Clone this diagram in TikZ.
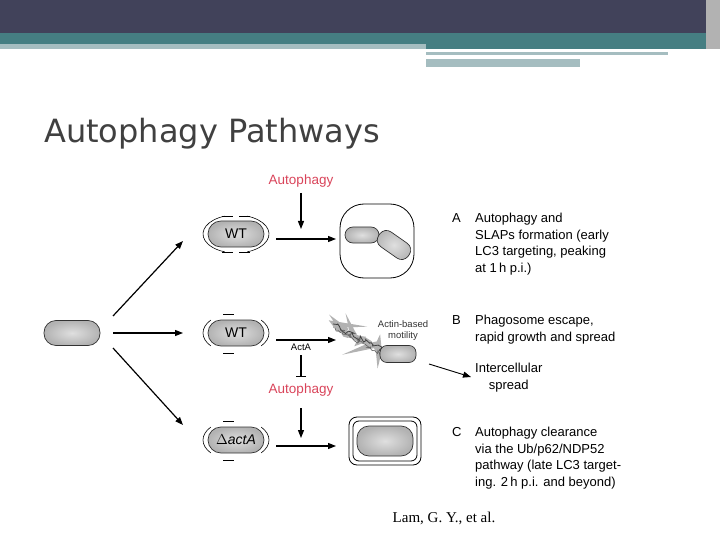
\documentclass[tikz,border=0pt]{standalone}
\usepackage{fontspec}
\setmainfont{Liberation Sans}
\newfontfamily\titlefont{DejaVu Sans}
\newfontfamily\serifx{Liberation Serif}
\usetikzlibrary{arrows.meta,decorations.pathmorphing}
\definecolor{dark}{HTML}{41425A}
\definecolor{teal1}{HTML}{457E82}
\definecolor{lteal}{HTML}{A5BDC0}
\definecolor{red1}{HTML}{D9445A}
\tikzset{
 bact/.style={draw=black!80,line width=0.7pt,rounded corners=#1,inner color=gray!25,outer color=gray!60},
 arr/.style={-{Triangle[length=8pt,width=6pt]},line width=1.2pt},
 lbl/.style={font=\fontsize{13}{16.5}\selectfont,align=left,anchor=north west,inner sep=0},
 red/.style={text=red1,font=\fontsize{13.5}{16}\selectfont},
 mem/.style={line width=0.6pt},
}
\begin{document}
\begin{tikzpicture}[x=1pt,y=-1pt]
\useasboundingbox (0,0) rectangle (720,540);
\fill[dark] (0,0) rectangle (720,33);
\fill[teal1] (0,33) rectangle (720,49);
\fill[lteal] (0,44) rectangle (426,49);
\fill[lteal] (426,52) rectangle (668,55);
\fill[lteal] (426,59) rectangle (580,67);
\fill[gray!60] (706,0) rectangle (720,49);
\node[anchor=west,inner sep=0,text=black!75,font=\titlefont\fontsize{32}{34}\selectfont] (title) at (44,134) {Autophagy Pathways};
% left bacterium
\node[bact=12pt,minimum width=56pt,minimum height=25pt] (b0) at (72,333) {};
% WT top
\node[bact=13pt,minimum width=56pt,minimum height=26pt,font=\fontsize{14}{16}\selectfont] (wt1) at (236,234) {WT};
\draw[mem] (wt1.center) ++(110:33pt and 19pt) arc (110:250:33pt and 19pt);
\draw[mem] (wt1.center) ++(70:33pt and 19pt) arc (70:-70:33pt and 19pt);
\draw[mem] (222,216)--(233,216);
\draw[mem] (239,216)--(250,216);
\draw[mem] (222,252)--(233,252);
\draw[mem] (239,252)--(250,252);
% WT middle
\node[bact=13pt,minimum width=56pt,minimum height=26pt,font=\fontsize{14}{16}\selectfont] (wt2) at (236,333) {WT};
\draw[mem] (wt2.center) ++(140:33pt and 20pt) arc (140:220:33pt and 20pt);
\draw[mem] (wt2.center) ++(40:33pt and 20pt) arc (40:-40:33pt and 20pt);
\draw[mem] (223,314)--(234,314);
\draw[mem] (223,353)--(234,353);
% delta actA
\node[bact=13pt,minimum width=56pt,minimum height=26pt,font=\fontsize{14}{16}\selectfont] (wt3) at (236,440) {$\Delta$\textit{actA}};
\draw[mem] (wt3.center) ++(140:33pt and 20pt) arc (140:220:33pt and 20pt);
\draw[mem] (wt3.center) ++(40:33pt and 20pt) arc (40:-40:33pt and 20pt);
\draw[mem] (223,421)--(234,421);
\draw[mem] (223,460)--(234,460);
% vacuole
\node[draw,line width=0.8pt,rounded corners=24pt,minimum width=74pt,minimum height=74pt] (vac) at (377,241) {};
\node[bact=8pt,minimum width=34pt,minimum height=16pt] (v1) at (362,235) {};
\node[bact=8pt,minimum width=36pt,minimum height=18pt,rotate=-35] (v2) at (394,245) {};
% actin motility
\draw[gray!60,line width=6pt,decorate,decoration={random steps,segment length=2pt,amplitude=2.5pt}] (333,325)--(386,352);
\draw[black!75,line width=0.8pt,decorate,decoration={random steps,segment length=2pt,amplitude=3pt}] (333,324)--(386,351);
\draw[black!60,line width=0.6pt,decorate,decoration={random steps,segment length=1.5pt,amplitude=3pt}] (335,328)--(384,354);
\node[bact=7pt,minimum width=36pt,minimum height=17pt] (mb) at (398,354) {};
\node[font=\fontsize{9.5}{11}\selectfont,align=center,text=black!80] (am) at (403,331) {Actin-based\\ motility};
% double membrane
\node[draw,line width=0.8pt,rounded corners=8pt,minimum width=72pt,minimum height=48pt] (dm1) at (385,441) {};
\node[draw,line width=0.8pt,rounded corners=6pt,minimum width=64pt,minimum height=40pt] (dm2) at (385,441) {};
\node[bact=12pt,minimum width=56pt,minimum height=30pt] (dmb) at (385,441) {};
% arrows from left
\coordinate (s1) at (113,316); \coordinate (e1) at (183,241);
\coordinate (s2) at (113,333); \coordinate (e2) at (183,333);
\coordinate (s3) at (113,348); \coordinate (e3) at (183,425);
\draw[arr] (s1)--(e1);
\draw[arr] (s2)--(e2);
\draw[arr] (s3)--(e3);
% horizontal arrows
\coordinate (h1s) at (276,239); \coordinate (h1e) at (336,239);
\coordinate (h2s) at (276,340); \coordinate (h2e) at (336,340);
\coordinate (h3s) at (276,446); \coordinate (h3e) at (336,446);
\draw[arr] (h1s)--(h1e);
\draw[arr] (h2s)--(h2e);
\draw[arr] (h3s)--(h3e);
% autophagy labels
\node[red] (au1) at (301,181) {Autophagy};
\node[red] (au2) at (301,390) {Autophagy};
\node[font=\fontsize{9.5}{11}\selectfont] (acta) at (301,347) {ActA};
\coordinate (v1s) at (301,193); \coordinate (v1e) at (301,229);
\coordinate (v3s) at (301,408); \coordinate (v3e) at (301,438);
\draw[arr] (v1s)--(v1e);
\draw[arr] (v3s)--(v3e);
\coordinate (is) at (301,355); \coordinate (ie) at (301,377);
\draw[line width=1.2pt,-{Bar[width=10pt]}] (is)--(ie);
% spread arrow
\coordinate (sp1) at (429,364); \coordinate (sp2) at (471,377);
\draw[-{Triangle[length=8pt,width=6pt]},line width=0.9pt] (sp1)--(sp2);
% right text
\node[lbl] (la) at (452,213) {A};
\node[lbl] (ta) at (475,213) {Autophagy and\\SLAPs formation (early\\LC3 targeting, peaking\\at 1\,h p.i.)};
\node[lbl] (lb) at (452,315) {B};
\node[lbl] (tb) at (475,315) {Phagosome escape,\\rapid growth and spread};
\node[lbl,align=center] (tsp) at (475,363) {Intercellular\\spread};
\node[lbl] (lc) at (452,427) {C};
\node[lbl] (tc) at (475,427) {Autophagy clearance\\via the Ub/p62/NDP52\\pathway (late LC3 target-\\ing. 2\,h p.i. and beyond)};
\node[font=\serifx\fontsize{15}{17}\selectfont] (cite) at (444,518) {Lam, G. Y., et al.};
\end{tikzpicture}
\end{document}
